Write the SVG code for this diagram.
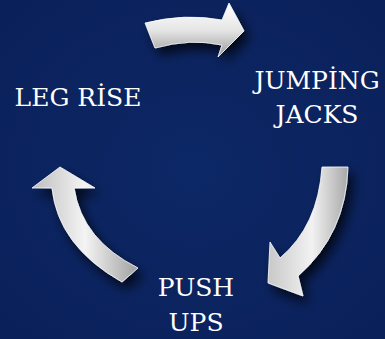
<svg xmlns="http://www.w3.org/2000/svg" width="385" height="339" viewBox="0 0 385 339">
<defs>
<radialGradient id="bg" cx="50%" cy="50%" r="70%">
<stop offset="0" stop-color="#0d2866"/>
<stop offset="1" stop-color="#0a205a"/>
</radialGradient>
<linearGradient id="silT" x1="0" y1="0" x2="0" y2="1">
<stop offset="0" stop-color="#ffffff"/>
<stop offset="0.5" stop-color="#e6e6e6"/>
<stop offset="1" stop-color="#9a9a9a"/>
</linearGradient>
<linearGradient id="silR" x1="1" y1="0" x2="0" y2="0">
<stop offset="0" stop-color="#a8a8a8"/>
<stop offset="0.45" stop-color="#f2f2f2"/>
<stop offset="1" stop-color="#c8c8c8"/>
</linearGradient>
<linearGradient id="silL" x1="0" y1="0" x2="1" y2="0">
<stop offset="0" stop-color="#bdbdbd"/>
<stop offset="0.5" stop-color="#f4f4f4"/>
<stop offset="1" stop-color="#a0a0a0"/>
</linearGradient>
<filter id="sh" x="-30%" y="-30%" width="160%" height="160%">
<feGaussianBlur in="SourceAlpha" stdDeviation="6"/>
<feOffset dx="5" dy="7" result="b"/>
<feComponentTransfer><feFuncA type="linear" slope="0.75"/></feComponentTransfer>
<feMerge><feMergeNode/><feMergeNode in="SourceGraphic"/></feMerge>
</filter>
<style>
.arr{stroke:#ffffff;stroke-width:0.8;stroke-linejoin:round;filter:url(#sh)}
.lbl{font-family:"DejaVu Serif",serif;font-size:25px;fill:#ffffff;text-anchor:middle}
</style>
</defs>
<rect width="385" height="339" fill="url(#bg)"/>
<g id="connectors">
<path id="arrow-top" class="arr" fill="url(#silT)" d="M145,23 Q185,13 222,20 L229,3 L244,31 L218,57 L222,45 Q190,38 155,48 Z"/>
<path id="arrow-right" class="arr" fill="url(#silR)" d="M322,167 L348,167 Q346,234 298,276 L303,296 L268,283 L270,242 L280,258 Q318,226 322,167 Z"/>
<path id="arrow-left" class="arr" fill="url(#silL)" d="M60,167 L95,188 L74,188 Q82,240 138,268 L122,282 Q58,246 52,188 L32,188 Z"/>
</g>
<g id="node-leg-rise"><text class="lbl" x="78" y="106">LEG RİSE</text></g>
<g id="node-jumping-jacks"><text class="lbl" x="317" y="89">JUMPİNG</text><text class="lbl" x="317" y="123">JACKS</text></g>
<g id="node-push-ups"><text class="lbl" x="196" y="296">PUSH</text><text class="lbl" x="196" y="331">UPS</text></g>
</svg>
